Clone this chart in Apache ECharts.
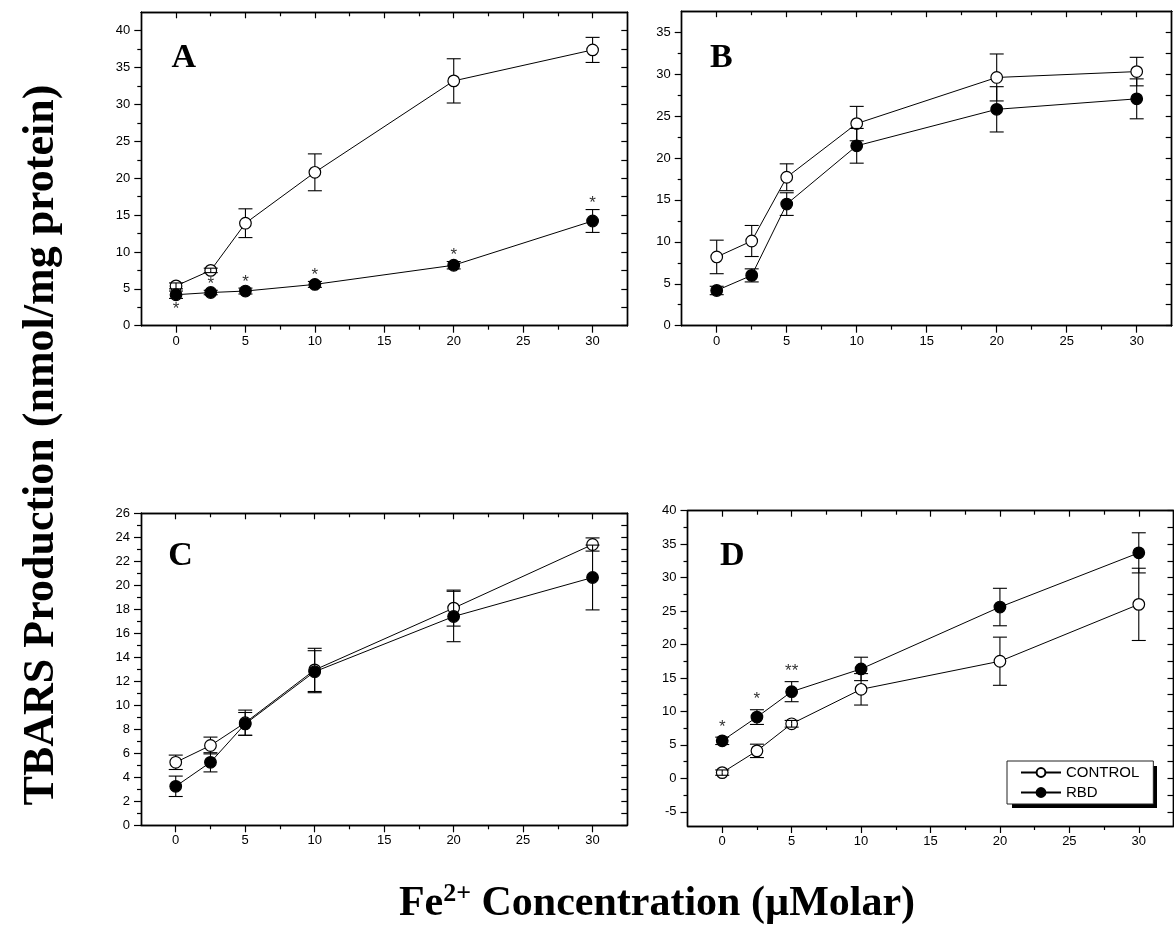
<!DOCTYPE html>
<html>
<head>
<meta charset="utf-8">
<script src="https://cdn.jsdelivr.net/npm/echarts@6/dist/echarts.min.js"></script>
<style>
html,body{margin:0;padding:0;background:#fff;}
#chart{width:1174px;height:947px;}
</style>
</head>
<body>
<div id="chart"></div>
<script>
// ---------------- data ----------------
const concentrations = [0, 2.5, 5, 10, 20, 30];
const xMajorTicks = [0, 5, 10, 15, 20, 25, 30];
const xMinorTicks = [2.5, 7.5, 12.5, 17.5, 22.5, 27.5];

// Panel A
const aControl    = [5.4, 7.5, 13.9, 20.8, 33.2, 37.4];
const aControlErr = [0.4, 0.3, 1.95, 2.5, 3.0, 1.7];
const aRbd        = [4.2, 4.5, 4.7, 5.6, 8.2, 14.2];
const aRbdErr     = [0.5, 0.3, 0.4, 0.4, 0.5, 1.55];
const aRbdMarks   = ['*', '*', '*', '*', '*', '*'];
const aRbdMarkSide = ['below', 'above', 'above', 'above', 'above', 'above'];
const aYMajor = [0, 5, 10, 15, 20, 25, 30, 35, 40];
const aYMinor = [2.5, 7.5, 12.5, 17.5, 22.5, 27.5, 32.5, 37.5];

// Panel B
const bControl    = [8.2, 10.1, 17.7, 24.1, 29.6, 30.3];
const bControlErr = [2.0, 1.85, 1.6, 2.05, 2.8, 1.7];
const bRbd        = [4.2, 6.0, 14.5, 21.45, 25.8, 27.05];
const bRbdErr     = [0.5, 0.78, 1.35, 2.07, 2.7, 2.38];
const bYMajor = [0, 5, 10, 15, 20, 25, 30, 35];
const bYMinor = [2.5, 7.5, 12.5, 17.5, 22.5, 27.5, 32.5];

// Panel C
const cControl    = [5.25, 6.65, 8.55, 12.95, 18.1, 23.4];
const cControlErr = [0.6, 0.7, 1.05, 1.8, 1.5, 0.55];
const cRbd        = [3.25, 5.25, 8.45, 12.8, 17.4, 20.65];
const cRbdErr     = [0.85, 0.8, 0.95, 1.75, 2.1, 2.7];
const cYMajor = [0, 2, 4, 6, 8, 10, 12, 14, 16, 18, 20, 22, 24, 26];
const cYMinor = [1, 3, 5, 7, 9, 11, 13, 15, 17, 19, 21, 23, 25];

// Panel D
const dControl    = [0.85, 4.1, 8.15, 13.3, 17.5, 26.0];
const dControlErr = [0.4, 1.0, 0.5, 2.35, 3.6, 5.4];
const dRbd        = [5.6, 9.15, 12.95, 16.35, 25.6, 33.7];
const dRbdErr     = [0.55, 1.1, 1.5, 1.75, 2.8, 3.0];
const dRbdMarks   = ['*', '*', '**', '', '', ''];
const dRbdMarkSide = ['above', 'above', 'above', 'above', 'above', 'above'];
const dYMajor = [-5, 0, 5, 10, 15, 20, 25, 30, 35, 40];
const dYMinor = [-2.5, 2.5, 7.5, 12.5, 17.5, 22.5, 27.5, 32.5, 37.5];

const seriesNames = ['CONTROL', 'RBD'];
const panelLetters = ['A', 'B', 'C', 'D'];
const yTitle = 'TBARS Production (nmol/mg protein)';

// ---------------- layout / styles ----------------
const SANS = '"Liberation Sans", Arial, sans-serif';
const SERIF = '"Liberation Serif", "Times New Roman", serif';

const panels = [
  { grid: {left: 141.3, top: 12.3, width: 486, height: 313.4}, yMin: 0, yMax: 42.5,
    yMajor: aYMajor, yMinor: aYMinor, control: aControl, controlErr: aControlErr,
    rbd: aRbd, rbdErr: aRbdErr, marks: aRbdMarks, markSide: aRbdMarkSide,
    letterPos: [171.5, 58.4], gapAbove: 6, gapBelow: 11 },
  { grid: {left: 681.7, top: 11.2, width: 490, height: 314.5}, yMin: 0, yMax: 37.5,
    yMajor: bYMajor, yMinor: bYMinor, control: bControl, controlErr: bControlErr,
    rbd: bRbd, rbdErr: bRbdErr, marks: null, markSide: null,
    letterPos: [710, 58.4] },
  { grid: {left: 141, top: 513.3, width: 486.3, height: 312}, yMin: 0, yMax: 26,
    yMajor: cYMajor, yMinor: cYMinor, control: cControl, controlErr: cControlErr,
    rbd: cRbd, rbdErr: cRbdErr, marks: null, markSide: null,
    letterPos: [168.3, 555.8] },
  { grid: {left: 687.5, top: 510.7, width: 486, height: 315.3}, yMin: -7.13, yMax: 40,
    yMajor: dYMajor, yMinor: dYMinor, control: dControl, controlErr: dControlErr,
    rbd: dRbd, rbdErr: dRbdErr, marks: dRbdMarks, markSide: dRbdMarkSide,
    letterPos: [720, 556.7], gapAbove: 10, gapBelow: 10 }
];

const AXIS_LINE = {color: '#000', width: 1.4};
const TICK_LINE = {color: '#000', width: 1.2};
const MARKER_R = 5.8;

function makeAxis(kind, gi, pos, min, max, ticks, len, inside, labels) {
  const ax = {
    type: 'value', gridIndex: gi, position: pos, min: min, max: max,
    axisLine: {show: true, onZero: false, lineStyle: AXIS_LINE},
    axisTick: {show: true, customValues: ticks, length: len, inside: inside, lineStyle: TICK_LINE},
    axisLabel: {show: false},
    splitLine: {show: false},
    minorTick: {show: false},
    axisPointer: {show: false}
  };
  if (labels) {
    ax.axisLabel = {show: true, customValues: labels, margin: kind === 'x' ? 9 : 11,
      color: '#000', fontSize: 13, fontFamily: SANS};
  }
  return ax;
}

const grids = [], xAxes = [], yAxes = [], series = [], graphics = [];

function errRender(params, api) {
  const x = api.value(0), y = api.value(1), e = api.value(2);
  const c = api.coord([x, y]);
  const t = api.coord([x, y + e]);
  const b = api.coord([x, y - e]);
  const r = MARKER_R, hw = 7;
  const style = {stroke: '#000', lineWidth: 1.1, fill: null};
  const cx = c[0];
  const ch = [];
  if (c[1] - t[1] > r) {
    ch.push({type: 'line', shape: {x1: cx, y1: c[1] - r, x2: cx, y2: t[1]}, style: style});
  } else {
    ch.push({type: 'line', shape: {x1: cx, y1: c[1], x2: cx, y2: t[1]}, style: style});
  }
  if (b[1] - c[1] > r) {
    ch.push({type: 'line', shape: {x1: cx, y1: c[1] + r, x2: cx, y2: b[1]}, style: style});
  } else {
    ch.push({type: 'line', shape: {x1: cx, y1: c[1], x2: cx, y2: b[1]}, style: style});
  }
  ch.push({type: 'line', shape: {x1: cx - hw, y1: t[1], x2: cx + hw, y2: t[1]}, style: style});
  ch.push({type: 'line', shape: {x1: cx - hw, y1: b[1], x2: cx + hw, y2: b[1]}, style: style});
  return {type: 'group', children: ch};
}

function makeSigRender(texts, sides, gapAbove, gapBelow) {
  return function (params, api) {
    const i = params.dataIndex;
    const txt = texts[i];
    if (!txt) return null;
    const x = api.value(0), y = api.value(1), e = api.value(2);
    const above = sides[i] !== 'below';
    const p = api.coord([x, above ? y + e : y - e]);
    return {
      type: 'text', x: p[0], y: above ? p[1] - gapAbove : p[1] + gapBelow,
      style: {text: txt, fill: '#333', font: '17px ' + SANS, textAlign: 'center', textVerticalAlign: 'middle'}
    };
  };
}

panels.forEach(function (p, gi) {
  grids.push(Object.assign({outerBoundsMode: 'none', containLabel: false}, p.grid));
  const xi = xAxes.length, yi = yAxes.length;
  xAxes.push(makeAxis('x', gi, 'bottom', -2.5, 32.5, xMajorTicks, 7, false, xMajorTicks));
  xAxes.push(makeAxis('x', gi, 'bottom', -2.5, 32.5, xMinorTicks, 4, false, null));
  xAxes.push(makeAxis('x', gi, 'top', -2.5, 32.5, xMajorTicks, 6, true, null));
  xAxes.push(makeAxis('x', gi, 'top', -2.5, 32.5, xMinorTicks, 4, true, null));
  yAxes.push(makeAxis('y', gi, 'left', p.yMin, p.yMax, p.yMajor, 7, false, p.yMajor));
  yAxes.push(makeAxis('y', gi, 'left', p.yMin, p.yMax, p.yMinor, 4, false, null));
  yAxes.push(makeAxis('y', gi, 'right', p.yMin, p.yMax, p.yMajor, 6, true, null));
  yAxes.push(makeAxis('y', gi, 'right', p.yMin, p.yMax, p.yMinor, 6, true, null));

  const groups = [
    {name: seriesNames[0], vals: p.control, errs: p.controlErr, fill: '#fff'},
    {name: seriesNames[1], vals: p.rbd, errs: p.rbdErr, fill: '#000'}
  ];
  groups.forEach(function (g) {
    series.push({
      type: 'line', name: g.name, xAxisIndex: xi, yAxisIndex: yi,
      data: concentrations.map(function (x, i) { return [x, g.vals[i]]; }),
      symbol: 'circle', symbolSize: MARKER_R * 2, showSymbol: true, clip: false,
      itemStyle: {color: g.fill, borderColor: '#000', borderWidth: 1.2},
      lineStyle: {color: '#000', width: 1},
      z: 2, silent: true, animation: false
    });
  });
  groups.forEach(function (g) {
    series.push({
      type: 'custom', name: g.name + ' error', xAxisIndex: xi, yAxisIndex: yi,
      data: concentrations.map(function (x, i) { return [x, g.vals[i], g.errs[i]]; }),
      renderItem: errRender, z: 3, silent: true, animation: false
    });
  });
  if (p.marks) {
    series.push({
      type: 'custom', name: 'significance', xAxisIndex: xi, yAxisIndex: yi,
      data: concentrations.map(function (x, i) { return [x, p.rbd[i], p.rbdErr[i]]; }),
      renderItem: makeSigRender(p.marks, p.markSide, p.gapAbove, p.gapBelow),
      z: 4, silent: true, animation: false
    });
  }
  graphics.push({
    type: 'text', x: p.letterPos[0], y: p.letterPos[1], silent: true,
    style: {text: panelLetters[gi], font: 'bold 34px ' + SERIF, fill: '#000',
      textAlign: 'left', textVerticalAlign: 'middle'}
  });
});

graphics.push({
  type: 'text', x: 42, y: 445, rotation: Math.PI / 2, silent: true,
  style: {text: yTitle, font: 'bold 44px ' + SERIF, fill: '#000',
    textAlign: 'center', textVerticalAlign: 'middle'}
});
graphics.push({
  type: 'text', x: 657, y: 904, silent: true,
  style: {
    text: '{a|Fe}{s|2+}{a| Concentration (µMolar)}',
    textAlign: 'center', textVerticalAlign: 'middle',
    rich: {
      a: {fontFamily: SERIF, fontWeight: 'bold', fontSize: 42, lineHeight: 46, fill: '#000'},
      s: {fontFamily: SERIF, fontWeight: 'bold', fontSize: 26, lineHeight: 26, verticalAlign: 'top', fill: '#000'}
    }
  }
});
// hard drop shadow of the legend box
graphics.push({
  type: 'rect', silent: true, z: 1,
  shape: {x: 1012, y: 766, width: 145, height: 42},
  style: {fill: '#000'}
});

const option = {
  animation: false,
  backgroundColor: '#fff',
  textStyle: {fontFamily: SANS},
  grid: grids,
  xAxis: xAxes,
  yAxis: yAxes,
  legend: {
    data: seriesNames, orient: 'vertical', left: 1007, top: 761, z: 20,
    padding: [4, 14, 4, 13], itemWidth: 40, itemHeight: 11, itemGap: 5,
    selectedMode: false,
    textStyle: {color: '#000', fontSize: 15, fontFamily: SANS},
    backgroundColor: '#fff', borderColor: '#222', borderWidth: 1, borderRadius: 0
  },
  graphic: graphics,
  series: series
};

const chart = echarts.init(document.getElementById('chart'), null, {renderer: 'canvas'});
chart.setOption(option);
</script>
</body>
</html>
